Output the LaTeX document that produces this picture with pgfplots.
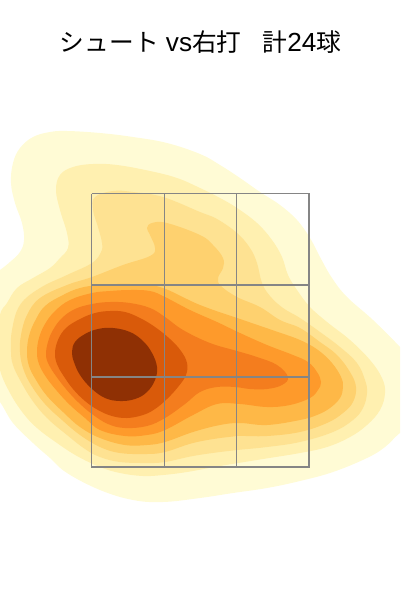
\documentclass[border=0pt]{standalone}
\usepackage{fontspec}
\usepackage{pgfplots}
\pgfplotsset{compat=1.18}
\setmainfont[Scale=1.06]{Liberation Sans}
\newfontfamily\cjk{Noto Sans CJK JP}
\definecolor{l1}{HTML}{FFFBD5}
\definecolor{l2}{HTML}{FFF0B0}
\definecolor{l3}{HTML}{FEE292}
\definecolor{l4}{HTML}{FED16F}
\definecolor{l5}{HTML}{FEB847}
\definecolor{l6}{HTML}{FE9A2B}
\definecolor{l7}{HTML}{F47D1E}
\definecolor{l8}{HTML}{D95A0A}
\definecolor{l9}{HTML}{8F3004}
\definecolor{zone}{HTML}{858585}
\begin{document}
\begin{tikzpicture}
\begin{axis}[
  width=400pt, height=600pt, scale only axis,
  xmin=0, xmax=400, ymin=0, ymax=600, y dir=reverse,
  ticks=none, axis line style={draw=none},
]
\pgfplotsset{density/.style={draw=none, smooth cycle, tension=0.65, mark=none, fill=#1}}
% filled density levels, outer to inner, pixel coordinates
\addplot[density=l1] coordinates {(-20,285)(0,270)(10,262)(20,252)(24,240)(22,223)(15,203)(11,183)(13,163)(20,148)(33,137)(50,132)(67,131)(100,133)(133,137)(167,143)(200,154)(220,165)(240,178)(260,192)(280,205)(297,220)(310,238)(320,257)(332,278)(347,297)(373,320)(400,347)(420,370)(430,400)(420,420)(400,433)(385,447)(367,458)(333,472)(300,481)(267,488)(233,493)(200,498)(163,502)(133,500)(100,490)(67,473)(50,458)(33,443)(13,423)(0,402)(-20,375)(-30,330)};
\addplot[density=l2] coordinates {(33,278)(50,268)(60,258)(68,248)(67,233)(60,210)(56,190)(60,175)(73,167)(93,164)(117,165)(150,171)(177,178)(200,188)(220,198)(237,208)(257,223)(272,240)(282,257)(288,275)(297,290)(310,307)(327,322)(350,340)(370,360)(382,378)(385,393)(380,410)(367,425)(350,437)(327,447)(300,453)(263,459)(220,466)(187,472)(163,475)(143,476)(120,473)(100,467)(77,456)(57,443)(37,428)(23,413)(10,393)(0,370)(-3,345)(0,315)(7,303)(17,288)};
\addplot[density=l3] coordinates {(11,352)(12,330)(20,305)(40,288)(67,275)(92,263)(101,252)(102,243)(98,227)(93,210)(95,197)(113,191)(133,192)(163,197)(200,212)(217,219)(237,233)(250,248)(257,263)(262,283)(270,296)(283,308)(300,318)(320,332)(340,347)(357,363)(365,380)(367,393)(363,408)(353,420)(333,432)(300,442)(267,447)(237,450)(220,452)(193,456)(165,462)(147,463)(120,462)(100,457)(85,449)(67,435)(47,418)(32,400)(20,380)(13,365)};
\addplot[density=l4] coordinates {(20,352)(21,335)(27,315)(40,298)(67,285)(92,277)(123,265)(150,256)(155,248)(150,235)(147,228)(152,223)(167,223)(200,235)(213,245)(223,258)(223,268)(218,278)(221,286)(237,297)(260,307)(280,320)(300,328)(320,342)(337,355)(350,372)(356,387)(353,402)(343,413)(327,423)(300,432)(267,436)(237,436)(220,438)(193,443)(165,452)(147,454)(120,453)(100,447)(80,435)(62,420)(45,404)(31,385)(23,368)};
\addplot[density=l5] coordinates {(27,352)(29,336)(35,321)(45,306)(63,295)(80,288)(100,285)(130,284)(160,287)(200,305)(243,320)(275,331)(300,340)(318,350)(332,363)(341,377)(343,387)(340,398)(330,408)(317,415)(300,420)(267,425)(240,423)(220,425)(193,432)(165,442)(147,445)(125,445)(100,438)(80,427)(63,412)(47,396)(36,380)(29,366)};
\addplot[density=l6] coordinates {(37,352)(39,338)(45,324)(55,311)(70,300)(92,293)(110,291)(130,290)(150,291)(165,297)(190,310)(217,322)(240,333)(267,345)(293,355)(308,362)(317,372)(321,382)(318,390)(310,398)(290,405)(267,407)(240,404)(217,404)(193,415)(165,430)(147,435)(125,436)(100,430)(85,418)(70,405)(57,391)(46,377)(39,364)};
\addplot[density=l7] coordinates {(46,355)(48,342)(53,330)(62,318)(75,309)(92,304)(110,302)(130,303)(150,308)(165,317)(183,330)(210,343)(237,351)(257,357)(277,365)(288,377)(282,385)(267,389)(250,389)(235,387)(217,387)(200,392)(185,404)(165,418)(147,426)(125,428)(108,424)(92,414)(78,402)(66,389)(56,376)(49,365)};
\addplot[density=l8] coordinates {(55,353)(58,340)(66,328)(80,319)(95,313)(110,311)(125,312)(140,318)(155,327)(170,339)(181,351)(187,363)(186,375)(178,387)(167,399)(155,409)(143,415)(127,418)(112,416)(98,410)(85,401)(73,389)(63,375)(57,364)};
\addplot[density=l9] coordinates {(72,352)(75,342)(85,334)(98,329)(113,328)(130,332)(143,341)(152,353)(157,367)(155,380)(147,392)(135,399)(120,401)(105,398)(91,388)(80,375)(74,362)};
% strike zone
\addplot[draw=zone, line width=1.5pt, sharp plot, mark=none] coordinates {(91.5,193.5)(309.2,193.5)(309.2,467)(91.5,467)(91.5,193.5)};
\addplot[draw=zone, line width=1.5pt, sharp plot, mark=none] coordinates {(164.5,193.5)(164.5,467)};
\addplot[draw=zone, line width=1.5pt, sharp plot, mark=none] coordinates {(236.5,193.5)(236.5,467)};
\addplot[draw=zone, line width=1.5pt, sharp plot, mark=none] coordinates {(91.5,285.2)(309.2,285.2)};
\addplot[draw=zone, line width=1.5pt, sharp plot, mark=none] coordinates {(91.5,377.2)(309.2,377.2)};
\node[font=\fontsize{24.7}{25}\selectfont, inner sep=0pt] at (axis cs:200.5,42) {{\cjk シュート} vs{\cjk 右打}\hspace{21pt}{\cjk 計}24{\cjk 球}};
\end{axis}
\end{tikzpicture}
\end{document}
